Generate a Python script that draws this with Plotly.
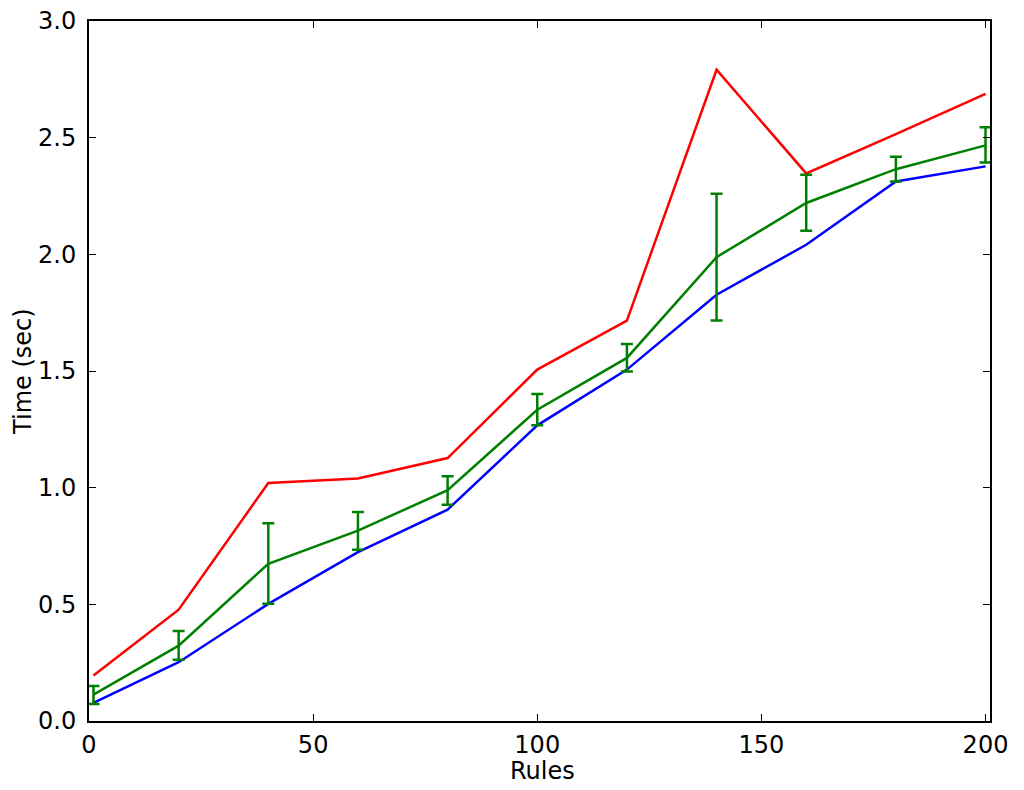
import plotly.graph_objects as go

rules = [1, 20, 40, 60, 80, 100, 120, 140, 160, 180, 200]
max_time = [0.195, 0.477, 1.020, 1.039, 1.127, 1.506, 1.716, 2.791, 2.347, 2.515, 2.688]
min_time = [0.078, 0.252, 0.502, 0.724, 0.906, 1.267, 1.506, 1.827, 2.041, 2.312, 2.377]
mean_time = [0.113, 0.323, 0.674, 0.816, 0.989, 1.334, 1.556, 1.988, 2.220, 2.365, 2.467]
err_upper = [0.037, 0.063, 0.173, 0.080, 0.060, 0.067, 0.060, 0.272, 0.121, 0.053, 0.078]
err_lower = [0.040, 0.060, 0.171, 0.082, 0.062, 0.067, 0.058, 0.272, 0.119, 0.053, 0.073]

x_ticks = [0, 50, 100, 150, 200]
y_ticks = [0.0, 0.5, 1.0, 1.5, 2.0, 2.5, 3.0]
y_ticklabels = ["0.0", "0.5", "1.0", "1.5", "2.0", "2.5", "3.0"]

fig = go.Figure()
fig.add_trace(go.Scatter(x=rules, y=max_time, mode="lines",
                         line=dict(color="#ff0000", width=2.5), name="max"))
fig.add_trace(go.Scatter(x=rules, y=min_time, mode="lines",
                         line=dict(color="#0000ff", width=2.5), name="min"))
fig.add_trace(go.Scatter(x=rules, y=mean_time, mode="lines",
                         line=dict(color="#008000", width=2.5), name="mean",
                         error_y=dict(type="data", symmetric=False,
                                      array=err_upper, arrayminus=err_lower,
                                      color="#008000", thickness=2.5, width=6)))

font = dict(family="DejaVu Sans", size=24, color="black")
fig.update_layout(
    width=1024, height=790,
    margin=dict(l=81, r=42, t=13, b=77, pad=0),
    paper_bgcolor="white", plot_bgcolor="white",
    showlegend=False,
    font=font,
    annotations=[
        dict(text="Rules", xref="paper", yref="paper", x=0.503, y=-0.071,
             xanchor="center", yanchor="middle", showarrow=False, font=font),
        dict(text="Time (sec)", xref="paper", yref="paper", x=-0.0733, y=0.5,
             xanchor="center", yanchor="middle", textangle=-90,
             showarrow=False, font=font),
    ],
)
fig.update_xaxes(
    range=[0, 201], tickvals=x_ticks, ticktext=[str(v) for v in x_ticks],
    showgrid=False, zeroline=False, automargin=False,
    showline=True, linecolor="black", linewidth=2, mirror="ticks",
    ticks="inside", ticklen=7, tickwidth=1, tickcolor="black",
    tickfont=font, ticklabelstandoff=1, ticklabeloverflow="allow",
)
fig.update_yaxes(
    range=[0, 3.0], tickvals=y_ticks, ticktext=y_ticklabels,
    showgrid=False, zeroline=False, automargin=False,
    showline=True, linecolor="black", linewidth=2, mirror="ticks",
    ticks="inside", ticklen=7, tickwidth=1, tickcolor="black",
    tickfont=font, ticklabelstandoff=6, ticklabeloverflow="allow",
)

fig.write_html("out.html")
